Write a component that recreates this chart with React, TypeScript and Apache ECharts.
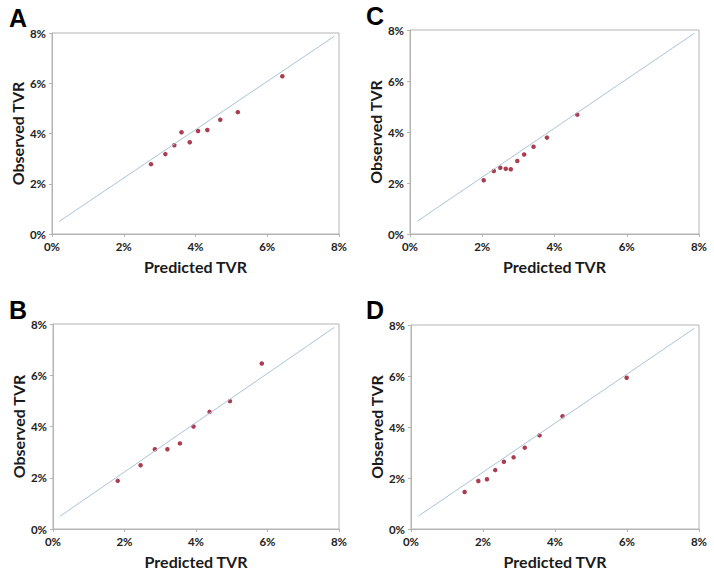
import React, { useEffect, useRef } from "react";
import * as echarts from "echarts";

const panelLetters = ["A", "C", "B", "D"];
const tickValues = [0, 2, 4, 6, 8];

// Predicted (x) and observed (y) TVR, in percent
const predictedA = [2.76, 3.16, 3.41, 3.61, 3.84, 4.07, 4.33, 4.69, 5.18, 6.42];
const observedA = [2.78, 3.18, 3.53, 4.05, 3.65, 4.10, 4.14, 4.55, 4.85, 6.28];

const predictedC = [2.04, 2.32, 2.50, 2.65, 2.79, 2.97, 3.16, 3.42, 3.79, 4.63];
const observedC = [2.11, 2.47, 2.60, 2.56, 2.54, 2.86, 3.12, 3.42, 3.78, 4.68];

const predictedB = [1.81, 2.45, 2.85, 3.20, 3.55, 3.93, 4.38, 4.95, 5.84];
const observedB = [1.88, 2.49, 3.11, 3.11, 3.34, 4.00, 4.57, 4.99, 6.46];

const predictedD = [1.49, 1.87, 2.11, 2.34, 2.58, 2.85, 3.16, 3.57, 4.21, 5.99];
const observedD = [1.45, 1.88, 1.95, 2.31, 2.64, 2.81, 3.19, 3.67, 4.42, 5.93];

// reference line endpoints (percent)
const lineX = [0.2, 7.87];
const lineY = [0.5, 7.87];

const panelsX = [predictedA, predictedC, predictedB, predictedD];
const panelsY = [observedA, observedC, observedB, observedD];

const grids = [
  { left: 52, top: 33, width: 287, height: 201 },
  { left: 410, top: 30, width: 289, height: 204 },
  { left: 53, top: 324, width: 286, height: 205 },
  { left: 411, top: 325, width: 288, height: 204 },
];
const letterPos = [
  { x: 9, y: 5 },
  { x: 366, y: 3 },
  { x: 9, y: 297 },
  { x: 366, y: 297 },
];

const FONT = "Lato, 'Open Sans', sans-serif";

export default function App() {
  const ref = useRef<HTMLDivElement>(null);
  useEffect(() => {
    document.body.style.margin = "0";
    const chart = echarts.init(ref.current!, undefined, { renderer: "svg" });
    const xAxis: any[] = [];
    const yAxis: any[] = [];
    const series: any[] = [];
    grids.forEach((g, i) => {
      const common = {
        gridIndex: i,
        type: "value",
        min: tickValues[0],
        max: tickValues[tickValues.length - 1],
        interval: 2,
        nameLocation: "middle",
        nameTextStyle: { fontFamily: FONT, fontWeight: "bold", fontSize: 16, color: "#1a1a1a" },
        axisLine: { show: true, lineStyle: { color: "#b4b4b4", width: 1 } },
        axisTick: { show: true, length: 3, lineStyle: { color: "#b4b4b4" } },
        splitLine: { show: false },
        axisLabel: {
          formatter: "{value}%",
          fontFamily: FONT,
          fontWeight: "bold",
          fontSize: 11.5,
          color: "#222",
        },
      };
      xAxis.push({ ...common, name: "Predicted TVR", nameGap: 24, axisLabel: { ...common.axisLabel, margin: 6 } });
      yAxis.push({ ...common, name: "Observed TVR", nameGap: 27, axisLabel: { ...common.axisLabel, margin: 6 } });
      series.push({
        type: "line",
        xAxisIndex: i,
        yAxisIndex: i,
        data: lineX.map((x, k) => [x, lineY[k]]),
        symbol: "none",
        lineStyle: { color: "#a9c3dc", width: 1 },
        silent: true,
      });
      series.push({
        type: "scatter",
        xAxisIndex: i,
        yAxisIndex: i,
        data: panelsX[i].map((x, k) => [x, panelsY[i][k]]),
        symbolSize: 4.5,
        itemStyle: { color: "#960d24" },
      });
    });
    chart.setOption({
      animation: false,
      backgroundColor: "#ffffff",
      grid: grids.map((g) => ({ ...g, show: true, borderColor: "#b4b4b4", borderWidth: 1, backgroundColor: "transparent" })),
      xAxis,
      yAxis,
      series,
      graphic: panelLetters.map((t, i) => ({
        type: "text",
        x: letterPos[i].x,
        y: letterPos[i].y,
        style: { text: t, font: "bold 25px 'Liberation Sans', Arial, sans-serif", fill: "#000" },
      })),
    });
    return () => chart.dispose();
  }, []);
  return <div ref={ref} style={{ width: 714, height: 574 }} />;
}
